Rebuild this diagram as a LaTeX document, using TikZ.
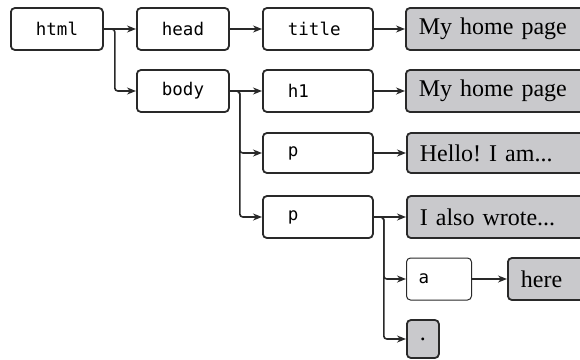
\documentclass[tikz,border=0pt]{standalone}
\usepackage{fontspec}
\setmainfont{Liberation Serif}
\setmonofont{DejaVu Sans Mono}
\usetikzlibrary{arrows.meta}
\definecolor{boxline}{rgb}{0.16,0.16,0.16}
\definecolor{textgray}{rgb}{0.79,0.79,0.80}
\frenchspacing

\begin{document}
\begin{tikzpicture}
    [x=1pt,y=-1pt,
     tagbox/.style={draw=boxline,line width=1.8pt,rounded corners=4pt,fill=white,
       minimum height=42pt,inner xsep=25pt,inner ysep=0pt,text width=#1,align=left,
       anchor=west,font=\ttfamily\fontsize{17.5}{20}\selectfont},
     txtbox/.style={draw=boxline,line width=1.8pt,rounded corners=4pt,fill=textgray,
       minimum height=42pt,inner xsep=13pt,inner ysep=0pt,text width=200pt,align=left,
       anchor=west,font=\fontsize{24}{26}\selectfont},
     link/.style={-{Stealth[length=9pt,width=7pt]},line width=1.6pt,draw=boxline,
       rounded corners=3pt}]

    \useasboundingbox (0,0) rectangle (580,359);
    \clip (0,0) rectangle (580,359);

\node[tagbox=42pt] (html) at (10,29) {html};
\node[tagbox=42pt] (head) at (136,29) {head};
\node[tagbox=42pt] (body) at (136,91) {body};
\node[tagbox=60pt] (title) at (262,29) {title};
\node[tagbox=60pt] (h1) at (262,91) {h1};
\node[tagbox=60pt,minimum height=40pt] (p1) at (262,153) {p};
\node[tagbox=60pt] (p2) at (262,217) {p};
\node[tagbox=41pt,inner xsep=12pt,line width=1pt] (a) at (406,279) {a};

\node[txtbox] (titletxt) at (405,29) {My home page};
\node[txtbox] (h1txt) at (405,91) {My home page};
\node[txtbox,minimum height=40pt] (p1txt) at (406,153) {Hello! I am...};
\node[txtbox] (p2txt) at (406,217) {I also wrote...};
\node[txtbox] (here) at (507,279) {here};
\node[txtbox,text width=10pt,inner xsep=11pt,align=center,minimum height=38pt] (dot) at (406,339) {.};

\draw[link] (html.east) -- (head.west);
\draw[link] (html.east) -- ++(11,0) |- (body.west);
\draw[link] (head.east) -- (title.west);
\draw[link] (title.east) -- (titletxt.west);
\draw[link] (body.east) -- (h1.west);
\draw[link] (body.east) -- ++(10,0) |- (p1.west);
\draw[link] (body.east) -- ++(10,0) |- (p2.west);
\draw[link] (h1.east) -- (h1txt.west);
\draw[link] (p1.east) -- (p1txt.west);
\draw[link] (p2.east) -- (p2txt.west);
\draw[link] (p2.east) -- ++(10,0) |- (a.west);
\draw[link] (p2.east) -- ++(10,0) |- (dot.west);
\draw[link] (a.east) -- (here.west);

  \end{tikzpicture}
\end{document}
